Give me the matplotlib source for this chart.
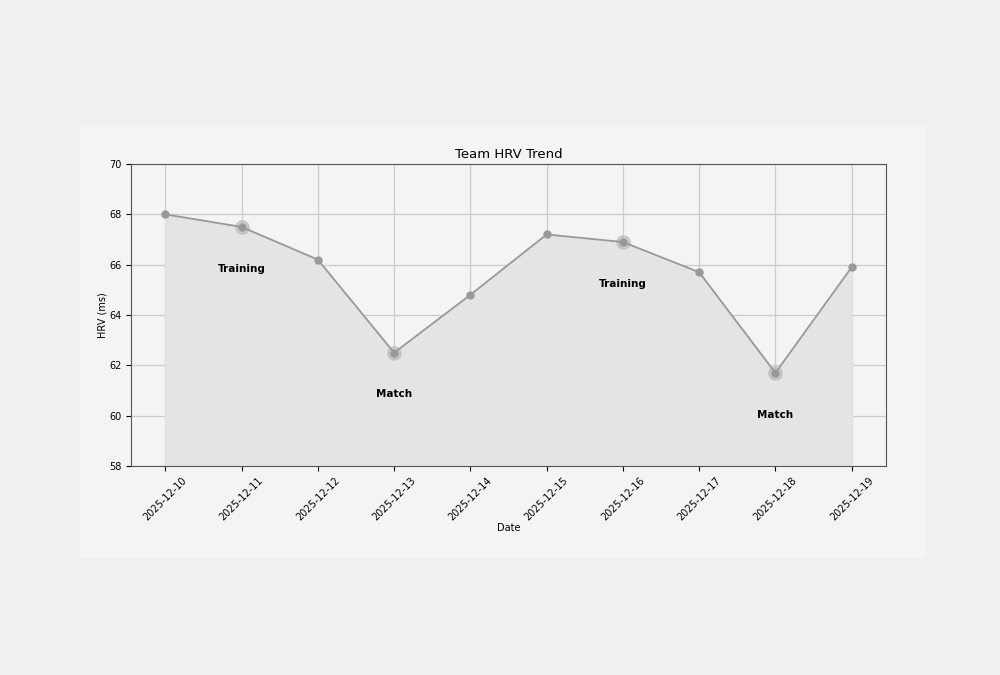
import matplotlib.pyplot as plt
from matplotlib.patches import Rectangle

dates = ['2025-12-10', '2025-12-11', '2025-12-12', '2025-12-13', '2025-12-14',
         '2025-12-15', '2025-12-16', '2025-12-17', '2025-12-18', '2025-12-19']
hrv = [68.0, 67.5, 66.2, 62.5, 64.8, 67.2, 66.9, 65.7, 61.7, 65.9]

# eventos marcados no grafico
event_idx = [1, 3, 6, 8]
event_labels = ['Training', 'Match', 'Training', 'Match']

fig = plt.figure(figsize=(10, 6.75), dpi=100, facecolor='#f0f0ef')
fig.patches.append(Rectangle((0.08, 1 - 558 / 675), 0.845, 433 / 675,
                             transform=fig.transFigure, facecolor='#f4f4f4',
                             edgecolor='none', zorder=-10))

ax = fig.add_axes([0.131, 1 - 466 / 675, 0.755, 302 / 675])
ax.set_facecolor('#f4f4f4')

x = list(range(len(dates)))
ax.fill_between(x, hrv, 58, color='#e4e4e4', zorder=1)
ax.plot(x, hrv, color='#999999', linewidth=1.3, marker='o', markersize=5, zorder=3)

ev_x = [x[i] for i in event_idx]
ev_y = [hrv[i] for i in event_idx]
ax.scatter(ev_x, ev_y, s=90, color='#bbbbbb', alpha=0.7, zorder=2)
for xi, yi, lab in zip(ev_x, ev_y, event_labels):
    ax.annotate(lab, (xi, yi), xytext=(0, -30), textcoords='offset points',
                ha='center', va='center', fontsize=7.5, fontweight='bold')

ax.set_ylim(58, 70)
ax.set_xticks(x)
ax.set_xticklabels(dates, rotation=45, fontsize=7)
ax.tick_params(axis='y', labelsize=7)
ax.set_xlabel('Date', fontsize=7, labelpad=0)
ax.set_ylabel('HRV (ms)', fontsize=7, labelpad=1)
ax.set_title('Team HRV Trend', fontsize=9.5, pad=4)
ax.grid(True, color='#cccccc', linewidth=0.9)
ax.set_axisbelow(True)
for s in ax.spines.values():
    s.set_color('#555555')

fig.savefig('out.png', dpi=100, facecolor=fig.get_facecolor())
